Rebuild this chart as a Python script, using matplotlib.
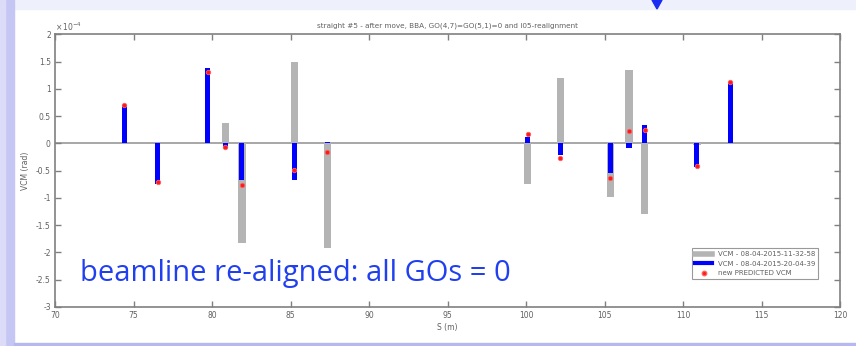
import numpy as np
import matplotlib.pyplot as plt
from matplotlib.patches import Rectangle, Polygon
from matplotlib.lines import Line2D

# corrector positions S (m)
s_pos = [74.41, 76.54, 79.72, 80.85, 81.91, 85.24, 87.35,
         100.1, 102.18, 105.37, 106.56, 107.56, 110.89, 113.0]
# VCM kicks, units of 1e-4 rad
vcm_before = [0.0, 0.0, 0.0, 0.37, -1.82, 1.49, -1.92,
              -0.74, 1.19, -0.99, 1.35, -1.30, -0.03, 0.0]
vcm_after = [0.70, -0.75, 1.377, -0.08, -0.68, -0.68, 0.03,
             0.11, -0.22, -0.55, -0.09, 0.33, -0.44, 1.13]
vcm_pred = [0.70, -0.70, 1.31, -0.07, -0.77, -0.49, -0.15,
            0.17, -0.27, -0.63, 0.22, 0.25, -0.42, 1.13]

labels = ['VCM - 08-04-2015-11-32-58', 'VCM - 08-04-2015-20-04-39', 'new PREDICTED VCM']
xticks = np.arange(70, 121, 5)
yticks = np.arange(-3, 2.01, 0.5)

W, H = 856, 346
fig = plt.figure(figsize=(W/100, H/100), dpi=100)
fig.patch.set_facecolor('white')

# slide decoration
fig.patches.append(Rectangle((0, 1-9/H), 1, 9/H, transform=fig.transFigure,
                             color='#eef0fb', zorder=0))
fig.patches.append(Rectangle((0, 0), 14/W, 1, transform=fig.transFigure,
                             color='#c6c6f4', zorder=0))
fig.patches.append(Rectangle((0, 0), 5/W, 1, transform=fig.transFigure,
                             color='#dcdcf8', zorder=0))
fig.patches.append(Rectangle((14/W, 0), 1, 3/H, transform=fig.transFigure,
                             color='#b8b8f0', zorder=0))
fig.patches.append(Polygon([(652/W, 1), (662/W, 1), (657/W, 1-9/H)], closed=True,
                           transform=fig.transFigure, color='#1a2cf0', zorder=1))

ax = fig.add_axes([55/W, 1-307/H, 785/W, (307-34.3)/H])
gray = '#808080'

ax.axhline(0, color='#a0a0a0', lw=1.3, zorder=1)
ax.bar(s_pos, vcm_before, width=0.45, color='#b4b4b4', zorder=2, label=labels[0])
ax.bar(s_pos, vcm_after, width=0.32, color='#0000ff', zorder=3, label=labels[1])
ax.plot(s_pos, vcm_pred, 'o', ms=3.2, mfc='#ff1a1a', mec='#ff6060', mew=0.6,
        ls='none', zorder=4, label=labels[2])

ax.set_xlim(70, 120)
ax.set_ylim(-3, 2)
ax.set_xticks(xticks)
ax.set_yticks(yticks)
ax.set_xticklabels(['%g' % v for v in xticks])
ax.set_yticklabels(['%g' % v for v in yticks])
ax.tick_params(direction='in', length=4, width=1, color=gray, labelsize=5.5,
               labelcolor='#606060', top=True, right=True, pad=3)
for sp in ax.spines.values():
    sp.set_color(gray)
    sp.set_linewidth(1.2)

ax.set_xlabel('S (m)', fontsize=5.5, color='#606060', labelpad=2)
ax.set_ylabel('VCM (rad)', fontsize=5.5, color='#606060', labelpad=4)
ax.set_title('straight #5 - after move, BBA, GO(4,7)=GO(5,1)=0 and I05-realignment',
             fontsize=5.2, color='#606060', pad=5)
ax.text(0.0, 1.005, r'$\times\,10^{-4}$', transform=ax.transAxes, fontsize=5.5,
        color='#606060', ha='left', va='bottom')

handles = [Line2D([], [], color='#b4b4b4', lw=4),
           Line2D([], [], color='#0000ff', lw=3),
           Line2D([], [], marker='o', ms=3.2, mfc='#ff1a1a', mec='#ff6060', ls='none')]
leg = ax.legend(handles, labels, loc='upper right', bbox_to_anchor=(0.972, 0.215),
                borderaxespad=0, fontsize=5, frameon=True, fancybox=False,
                handlelength=2.5, labelcolor='#606060', labelspacing=0.5)
leg.get_frame().set_edgecolor(gray)
leg.get_frame().set_linewidth(0.8)

fig.text(80/W, 1-281/H, 'beamline re-aligned: all GOs = 0', fontsize=21,
         color='#2040f0', family='Open Sans', ha='left', va='baseline')

fig.savefig('out.png', dpi=100)
